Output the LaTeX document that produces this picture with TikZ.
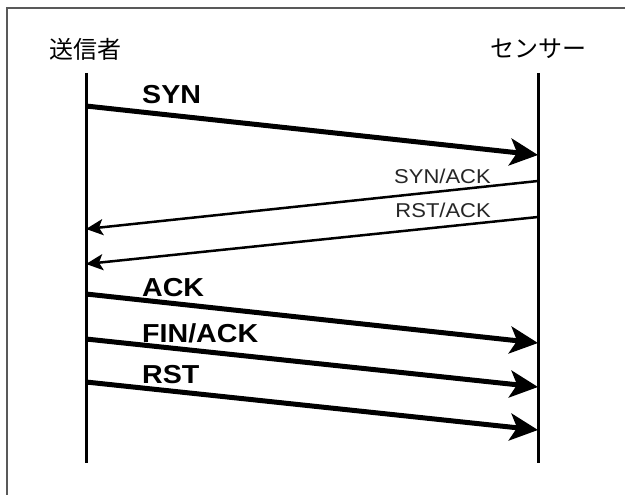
\documentclass[tikz,border=0pt]{standalone}
\usepackage{fontspec}
\setmainfont{Liberation Sans}
\newfontfamily\jpfont{Noto Sans CJK JP}
\newfontfamily\lblfont[FakeStretch=1.1]{Liberation Sans}
\usetikzlibrary{arrows.meta}
\begin{document}
\begin{tikzpicture}[x=1pt,y=-1pt,
  lifeline/.style={line width=3pt},
  frameline/.style={draw=black!65,line width=1.2pt},
  heavymsg/.style={line width=5pt,-{Stealth[length=28pt,width=27pt,inset=7pt]}},
  lightmsg/.style={line width=2.5pt,-{Stealth[length=17pt,width=16pt,inset=4pt]}},
  actor/.style={font=\jpfont\fontsize{24}{28}\selectfont,inner sep=0pt},
  heavylbl/.style={font=\lblfont\bfseries\fontsize{26}{30}\selectfont,inner sep=0pt,anchor=base west},
  lightlbl/.style={font=\lblfont\fontsize{20}{24}\selectfont,inner sep=0pt,anchor=base east,text=black!85}]
\useasboundingbox[fill=white] (0,0) rectangle (625,495);
\draw[frameline] (7,495) -- (7,8) -- (625,8);
% actors
\node[actor] (snd) at (85,49) {送信者};
\node[actor] (sen) at (538,49) {センサー};
% lifelines
\coordinate (sndtop) at (86,73);
\coordinate (sndbot) at (86,463);
\coordinate (sentop) at (538,73);
\coordinate (senbot) at (538,463);
\draw[lifeline] (sndtop) -- (sndbot);
\draw[lifeline] (sentop) -- (senbot);
% message end points
\coordinate (a1) at (86,106);  \coordinate (b1) at (538,155);
\coordinate (b2) at (538,181); \coordinate (a2) at (86,229);
\coordinate (b3) at (538,217); \coordinate (a3) at (86,264);
\coordinate (a4) at (86,294);  \coordinate (b4) at (538,343);
\coordinate (a5) at (86,339);  \coordinate (b5) at (538,387);
\coordinate (a6) at (86,382);  \coordinate (b6) at (538,430);
% messages
\draw[heavymsg] (a1) -- (b1);
\draw[lightmsg] (b2) -- (a2);
\draw[lightmsg] (b3) -- (a3);
\draw[heavymsg] (a4) -- (b4);
\draw[heavymsg] (a5) -- (b5);
\draw[heavymsg] (a6) -- (b6);
% labels
\node[heavylbl] (l1) at (142,104) {SYN};
\node[lightlbl] (l2) at (491,183) {SYN/ACK};
\node[lightlbl] (l3) at (491,218) {RST/ACK};
\node[heavylbl] (l4) at (142,296) {ACK};
\node[heavylbl] (l5) at (142,342) {FIN/ACK};
\node[heavylbl] (l6) at (142,383) {RST};
\end{tikzpicture}
\end{document}
